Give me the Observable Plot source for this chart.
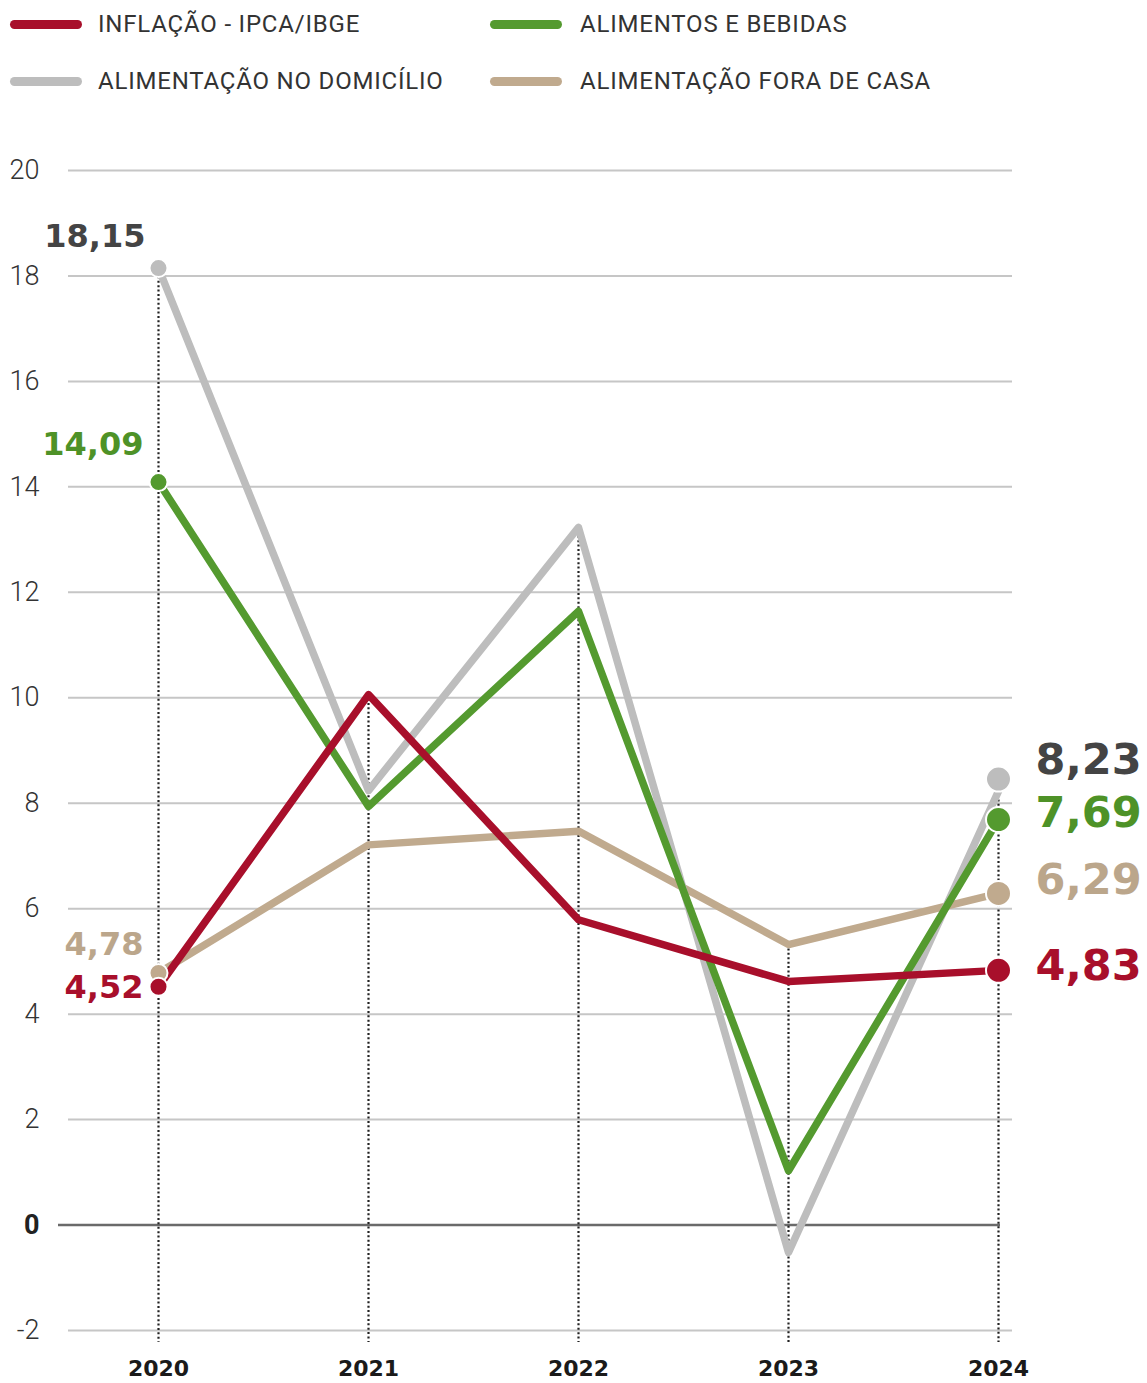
<!DOCTYPE html>
<html>
<head>
<meta charset="utf-8">
<script src="https://cdn.jsdelivr.net/npm/d3@7"></script>
<script src="https://cdn.jsdelivr.net/npm/@observablehq/plot@0.6"></script>
<style>
  html, body { margin: 0; padding: 0; background: #fff; }
  body { width: 1147px; height: 1383px; overflow: hidden; font-family: Roboto, "Noto Sans", sans-serif; }
  #legend { position: relative; height: 120px; }
  .sw { width: 72px; height: 9px; border-radius: 5px; }
  .lb { position: absolute; font-size: 24px; color: #333; white-space: nowrap; letter-spacing: 0.8px; }
</style>
</head>
<body>
<div id="legend"></div>
<div id="chart"></div>
<script>
// ---- data ----
const years = [2020, 2021, 2022, 2023, 2024];
const ipca = [4.52, 10.06, 5.79, 4.62, 4.83];
const alimentos = [14.09, 7.94, 11.64, 1.03, 7.69];
const domicilio = [18.15, 8.24, 13.23, -0.52, 8.23];
const foraCasa = [4.78, 7.21, 7.47, 5.32, 6.29];
const seriesNames = ["INFLAÇÃO - IPCA/IBGE", "ALIMENTOS E BEBIDAS", "ALIMENTAÇÃO NO DOMICÍLIO", "ALIMENTAÇÃO FORA DE CASA"];
const yTicks = [-2, 0, 2, 4, 6, 8, 10, 12, 14, 16, 18, 20];

// ---- styles ----
const colors = {
  [seriesNames[0]]: "#a80f2b",
  [seriesNames[1]]: "#549a2f",
  [seriesNames[2]]: "#bdbdbd",
  [seriesNames[3]]: "#c0aa8e"
};
const labelColors = {
  [seriesNames[0]]: "#a80f2b",
  [seriesNames[1]]: "#4e9227",
  [seriesNames[2]]: "#444444",
  [seriesNames[3]]: "#bba68b"
};
const startOffsets = {
  [seriesNames[0]]: {dx: -15, dy: 1},
  [seriesNames[1]]: {dx: -15, dy: -37},
  [seriesNames[2]]: {dx: -13, dy: -31},
  [seriesNames[3]]: {dx: -15, dy: -28}
};
const endOffsets = {
  [seriesNames[0]]: {dy: -4},
  [seriesNames[1]]: {dy: -6},
  [seriesNames[2]]: {dy: -31, dotDy: -12},
  [seriesNames[3]]: {dy: -13}
};
const labelFont = "'DejaVu Sans', Roboto, sans-serif";

const valuesBySeries = [ipca, alimentos, domicilio, foraCasa];
const data = [];
seriesNames.forEach((s, i) => years.forEach((y, j) => data.push({series: s, year: y, value: valuesBySeries[i][j]})));
const fmt = v => v.toFixed(2).replace(".", ",");
const yearMax = years.map((y, j) => ({year: y, top: d3.max(valuesBySeries, vs => vs[j])}));

// ---- legend ----
const legend = document.getElementById("legend");
const legendPos = [
  {sx: 10, tx: 98, cy: 25},
  {sx: 490, tx: 580, cy: 25},
  {sx: 10, tx: 98, cy: 82},
  {sx: 490, tx: 580, cy: 82}
];
seriesNames.forEach((s, i) => {
  const p = legendPos[i];
  const sw = document.createElement("div");
  sw.className = "sw";
  sw.style.cssText = `position:absolute;left:${p.sx}px;top:${p.cy - 5}px;background:${colors[s]};`;
  legend.appendChild(sw);
  const lb = document.createElement("div");
  lb.className = "lb";
  lb.textContent = s;
  lb.style.left = p.tx + "px";
  lb.style.top = (p.cy - 15) + "px";
  legend.appendChild(lb);
});

// ---- chart ----
const drawOrder = [seriesNames[3], seriesNames[2], seriesNames[1], seriesNames[0]];
const first = data.filter(d => d.year === years[0]);
const last = data.filter(d => d.year === years[years.length - 1]);

const marks = [
  Plot.ruleY(yTicks.filter(t => t !== 0), {y: d => d, stroke: "#c6c6c6", strokeWidth: 2, insetLeft: -90, insetRight: -14}),
  Plot.ruleY([0], {y: d => d, stroke: "#6a6a6a", strokeWidth: 2.5, insetLeft: -100, insetRight: -2}),
  Plot.text(yTicks.filter(t => t !== 0), {y: d => d, text: d => String(d), frameAnchor: "left", textAnchor: "end", dx: -119, fontSize: 27, fontWeight: 300, fill: "#333"}),
  Plot.text([0], {y: d => d, text: d => String(d), frameAnchor: "left", textAnchor: "end", dx: -119, fontSize: 27, fontWeight: 700, fill: "#222"}),
  Plot.ruleX(yearMax, {x: "year", y1: "top", y2: -2, stroke: "#222", strokeWidth: 2.2, strokeDasharray: "2,2.4", insetBottom: -12}),
  Plot.text(years, {x: d => d, text: d => String(d), frameAnchor: "bottom", lineAnchor: "middle", dy: 38, fontSize: 22, fontWeight: 700, fill: "#1a1a1a", fontFamily: labelFont}),
  ...drawOrder.map(s => Plot.line(data.filter(d => d.series === s), {x: "year", y: "value", stroke: colors[s], strokeWidth: 7.5, strokeLinejoin: "round"})),
  ...drawOrder.map(s => Plot.dot(first.filter(d => d.series === s), {x: "year", y: "value", r: 9, fill: colors[s], stroke: "#fff", strokeWidth: 2})),
  ...drawOrder.map(s => Plot.dot(last.filter(d => d.series === s), {x: "year", y: "value", r: 12.5, fill: colors[s], stroke: "#fff", strokeWidth: 2, dy: endOffsets[s].dotDy || 0})),
  ...seriesNames.map(s => Plot.text(first.filter(d => d.series === s), {x: "year", y: "value", text: d => fmt(d.value), textAnchor: "end", dx: startOffsets[s].dx, dy: startOffsets[s].dy, fontSize: 32, fontWeight: 700, fill: labelColors[s], fontFamily: labelFont})),
  ...seriesNames.map(s => Plot.text(last.filter(d => d.series === s), {x: "year", y: "value", text: d => fmt(d.value), textAnchor: "start", dx: 37, dy: endOffsets[s].dy, fontSize: 43, fontWeight: 700, fill: labelColors[s], fontFamily: labelFont}))
];

const chart = Plot.plot({
  width: 1147,
  height: 1263,
  marginTop: 50,
  marginBottom: 53,
  marginLeft: 158,
  marginRight: 149,
  x: {type: "linear", domain: [2020, 2024], axis: null},
  y: {domain: [-2, 20], axis: null},
  style: {fontFamily: "Roboto, 'Noto Sans', sans-serif", background: "#fff", overflow: "visible"},
  marks
});
document.getElementById("chart").appendChild(chart);
</script>
</body>
</html>
